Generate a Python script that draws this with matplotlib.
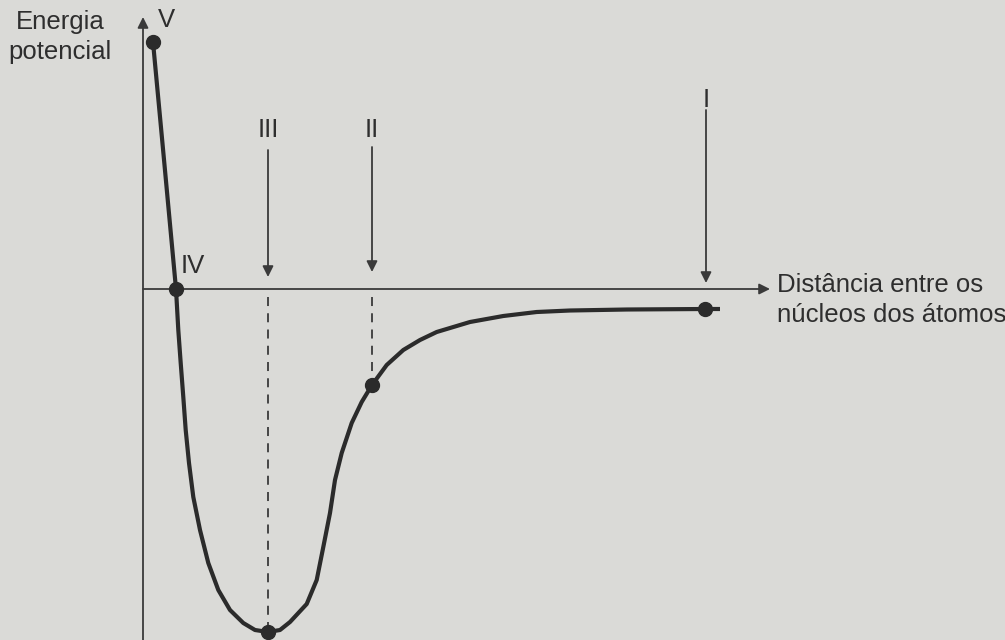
import matplotlib.pyplot as plt

plt.rcParams['font.family'] = ['Liberation Sans', 'DejaVu Sans']

# potential energy curve (distance, energy), arbitrary units
distance = [1.0, 2.15, 3.3, 3.53, 3.77, 4.03, 4.27, 4.6, 5.03, 5.7, 6.53, 7.53, 8.7,
            10.03, 11.2, 12.5, 13.7, 14.7, 16.37, 17.37, 18.03, 18.7, 19.2, 19.87,
            20.87, 21.87, 22.9, 24.37, 26.03, 27.7, 29.37, 32.7, 36.03, 39.37, 42.7,
            48.4, 56.2, 57.7]
energy = [24.7, 12.4, 0.0, -4.1, -7.4, -10.8, -14.1, -17.4, -20.8, -24.1, -27.4, -30.1,
          -32.1, -33.4, -34.1, -34.3, -34.1, -33.3, -31.5, -29.1, -25.8, -22.4, -19.1,
          -16.4, -13.4, -11.3, -9.6, -7.6, -6.1, -5.1, -4.3, -3.3, -2.7, -2.3, -2.15,
          -2.05, -2.0, -2.0]

# labelled points on the curve
point_labels = ['V', 'IV', 'III', 'II', 'I']
point_dist = [1.0, 3.3, 12.5, 22.9, 56.2]
point_energy = [24.7, 0.0, -34.3, -9.6, -2.0]

ink = '#2b2b2b'
bg = '#dadad7'

fig = plt.figure(figsize=(10.05, 6.4), dpi=100, facecolor=bg)
ax = fig.add_axes([0, 0, 1, 1])
ax.set_facecolor(bg)
ax.set_xlim(-14.3, 86.2)
ax.set_ylim(-35.1, 28.9)
ax.axis('off')

axis_style = dict(arrowstyle='-|>', lw=1.3, color='#3a3a3a', mutation_scale=16,
                  shrinkA=0, shrinkB=0)
# axes with arrow heads
ax.annotate('', xy=(0, 27.2), xytext=(0, -35.1), arrowprops=axis_style)
ax.annotate('', xy=(62.7, 0), xytext=(0, 0), arrowprops=axis_style)

# dashed guides from the axis down to III and II
for d, e in zip(point_dist[2:4], point_energy[2:4]):
    ax.plot([d, d], [-0.8, e], color='#3a3a3a', lw=1.3, ls=(0, (5, 4)))

ax.plot(distance, energy, color=ink, lw=3.0, solid_capstyle='butt',
        solid_joinstyle='round', zorder=3)
ax.plot(point_dist, point_energy, 'o', color=ink, ms=10, zorder=4)

# arrows pointing at III, II and I
arrow_x = [12.5, 22.9, 56.3]
arrow_top = [13.9, 14.2, 17.9]
arrow_tip = [1.2, 1.7, 0.6]
for x, t0, t1 in zip(arrow_x, arrow_top, arrow_tip):
    ax.annotate('', xy=(x, t1), xytext=(x, t0), arrowprops=axis_style)

txt = dict(fontsize=18.5, color='#2e2e2e')
ax.text(12.5, 15.9, 'III', ha='center', va='center', **txt)
ax.text(22.9, 15.9, 'II', ha='center', va='center', **txt)
ax.text(56.3, 18.9, 'I', ha='center', va='center', **txt)
ax.text(2.3, 26.9, 'V', ha='center', va='center', **txt)
ax.text(5.0, 2.3, 'IV', ha='center', va='center', **txt)

ax.text(-8.3, 25.2, 'Energia\npotencial', ha='center', va='center',
        multialignment='center', linespacing=1.35, **txt)
ax.text(63.4, -1.1, 'Distância entre os\nnúcleos dos átomos', ha='left', va='center',
        linespacing=1.35, **txt)

fig.savefig('out.png', dpi=100, facecolor=bg)
